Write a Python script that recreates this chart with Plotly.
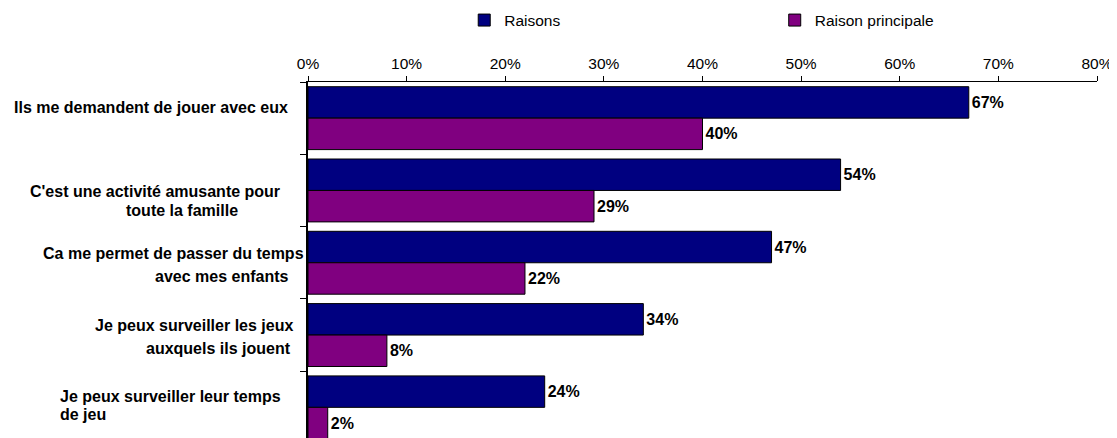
import plotly.graph_objects as go

# ---- data ----
category_lines = [
    ["Ils me demandent de jouer avec eux"],
    ["C'est une activité amusante pour", "toute la famille"],
    ["Ca me permet de passer du temps", "avec mes enfants"],
    ["Je peux surveiller les jeux", "auxquels ils jouent"],
    ["Je peux surveiller leur temps", "de jeu"],
]
categories = [" ".join(lines) for lines in category_lines]
series_names = ["Raisons", "Raison principale"]
raisons = [67, 54, 47, 34, 24]
raison_principale = [40, 29, 22, 8, 2]
x_ticks = [0, 10, 20, 30, 40, 50, 60, 70, 80]
x_tick_labels = [f"{v}%" for v in x_ticks]

# ---- styling ----
OFF = 8  # page body margin
W, H = 1117 - OFF, 438 - OFF
ML, MR, MT, MB = 307.5 - OFF, 19.5, 82 - OFF, 0
PW, PH = W - ML - MR, H - MT - MB
FONT = "Liberation Sans, Arial, sans-serif"
colors = ["#000080", "#800080"]

fig = go.Figure()
for name, vals, col in zip(series_names, [raisons, raison_principale], colors):
    fig.add_trace(go.Bar(
        y=categories, x=vals, name=name, orientation="h",
        marker=dict(color=col, line=dict(color="#000000", width=1)),
        text=[f"{v}%" for v in vals],
        texttemplate="<b>%{text}</b>", textposition="outside",
        textfont=dict(family=FONT, size=16, color="#000000"),
        cliponaxis=False,
    ))

# label line placement in reference pixels (left edge, center y)
label_pos = [
    [(13, 108)],
    [(29, 191), (125, 210)],
    [(42, 253), (154, 276)],
    [(94, 325), (145, 348)],
    [(59, 396), (59, 414)],
]
annotations = []
for lines, poss in zip(category_lines, label_pos):
    for txt, (px, py) in zip(lines, poss):
        annotations.append(dict(
            text="<b>" + txt + "</b>", xref="paper", yref="paper",
            x=(px - OFF - ML) / PW, y=(H - (py - OFF)) / PH,
            xanchor="left", yanchor="middle",
            showarrow=False, borderpad=0, borderwidth=0,
            font=dict(family=FONT, size=16, color="#000000"),
        ))

fig.update_layout(
    width=W, height=H,
    margin=dict(l=ML, r=MR, t=MT, b=MB, pad=0, autoexpand=False),
    paper_bgcolor="white", plot_bgcolor="white",
    barmode="group", bargap=0.13, bargroupgap=0,
    font=dict(family=FONT, size=15.5, color="#000000"),
    showlegend=True,
    legend=dict(orientation="h", x=0.198, y=(H - (20.5 - OFF)) / PH,
                xanchor="left", yanchor="middle",
                entrywidth=265.5, entrywidthmode="pixels",
                font=dict(family=FONT, size=15.5, color="#000000"),
                bgcolor="rgba(0,0,0,0)", borderwidth=0, traceorder="normal"),
    annotations=annotations,
    xaxis=dict(
        side="top", range=[0, 80], tickvals=x_ticks, ticktext=x_tick_labels,
        showline=True, linecolor="#000000", linewidth=1,
        ticks="outside", ticklen=5, tickcolor="#000000", tickwidth=1,
        ticklabelstandoff=1,
        showgrid=False, zeroline=False,
        tickfont=dict(family=FONT, size=15.5, color="#000000"),
    ),
    yaxis=dict(
        type="category", categoryorder="array", categoryarray=categories,
        range=[4.424, -0.5],
        showline=True, linecolor="#000000", linewidth=1.5,
        ticks="outside", tickson="boundaries", ticklen=6, tickcolor="#000000",
        showticklabels=False, showgrid=False, zeroline=False,
    ),
)

fig.write_html("out.html")
